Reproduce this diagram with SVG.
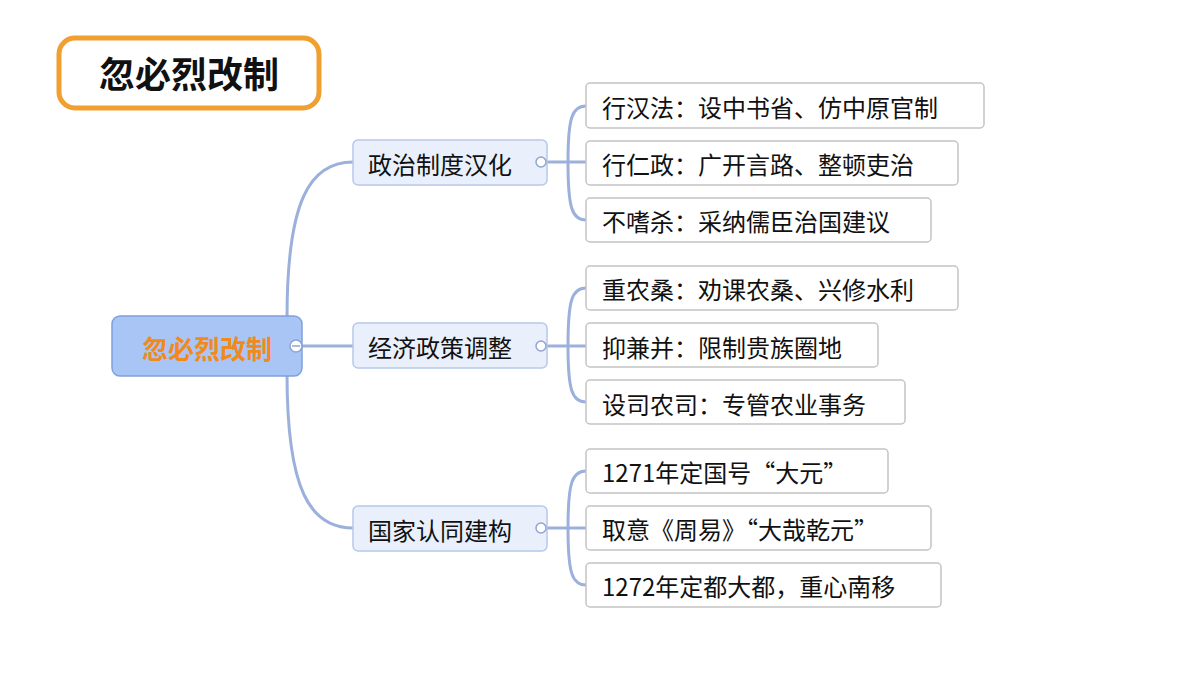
<svg xmlns="http://www.w3.org/2000/svg" width="1200" height="675" viewBox="0 0 1200 675">
<style>
text{font-family:"Noto Sans CJK SC","Noto Sans",sans-serif;dominant-baseline:central}
.br{fill:#e9f0fc;stroke:#b7c8ea;stroke-width:1.5}
.lf{fill:#fff;stroke:#c4c4c4;stroke-width:1.5}
.t{font-size:24px;fill:#111}
.c{fill:#fff;stroke:#8ea4d2;stroke-width:1.5}
.ln{fill:none;stroke:#9cb0dc;stroke-width:3}
</style>
<rect width="1200" height="675" fill="#fff"/>
<g id="title"><rect x="59" y="38" width="260" height="70" rx="16" fill="#fff" stroke="#f0a030" stroke-width="5"/><text x="189" y="72" text-anchor="middle" font-size="36" font-weight="bold" fill="#111">忽必烈改制</text></g>
<g id="connectors">
<path class="ln" d="M287,318 C287,200 310,162 353,162"/>
<path class="ln" d="M302,346 H353"/>
<path class="ln" d="M287,374 C287,490 310,528 353,528"/>
<path class="ln" d="M547,162 H586 M568,162 C568,118 572,106 586,106 M568,162 C568,208 572,220 586,220"/>
<path class="ln" d="M547,346 H586 M568,346 C568,300 572,288 586,288 M568,346 C568,390 572,402 586,402"/>
<path class="ln" d="M547,528 H586 M568,528 C568,483 572,471 586,471 M568,528 C568,573 572,585 586,585"/>
</g>
<g id="root"><rect x="112" y="316" width="190" height="60" rx="8" fill="#a8c5f6" stroke="#7fa0dc" stroke-width="1.5"/><text x="207" y="347" text-anchor="middle" font-size="26" font-weight="bold" fill="#f08a1c">忽必烈改制</text><circle class="c" cx="296" cy="346" r="6"/><path d="M292,346H300" stroke="#8ea4d2" stroke-width="1.5"/></g>
<g id="b1"><rect class="br" x="353" y="140" width="194" height="45" rx="5"/><text class="t" x="368" y="163">政治制度汉化</text><circle class="c" cx="541" cy="162" r="5"/></g>
<g id="b2"><rect class="br" x="353" y="323" width="194" height="45" rx="5"/><text class="t" x="368" y="346">经济政策调整</text><circle class="c" cx="541" cy="346" r="5"/></g>
<g id="b3"><rect class="br" x="353" y="506" width="194" height="45" rx="5"/><text class="t" x="368" y="529">国家认同建构</text><circle class="c" cx="541" cy="528" r="5"/></g>
<g id="l1"><rect class="lf" x="586" y="83" width="398" height="45" rx="4"/><text class="t" x="602" y="106">行汉法：设中书省、仿中原官制</text></g>
<g id="l2"><rect class="lf" x="586" y="141" width="372" height="44" rx="4"/><text class="t" x="602" y="163">行仁政：广开言路、整顿吏治</text></g>
<g id="l3"><rect class="lf" x="586" y="198" width="345" height="44" rx="4"/><text class="t" x="602" y="220">不嗜杀：采纳儒臣治国建议</text></g>
<g id="l4"><rect class="lf" x="586" y="266" width="372" height="44" rx="4"/><text class="t" x="602" y="288">重农桑：劝课农桑、兴修水利</text></g>
<g id="l5"><rect class="lf" x="586" y="323" width="292" height="44" rx="4"/><text class="t" x="602" y="346">抑兼并：限制贵族圈地</text></g>
<g id="l6"><rect class="lf" x="586" y="380" width="319" height="44" rx="4"/><text class="t" x="602" y="403">设司农司：专管农业事务</text></g>
<g id="l7"><rect class="lf" x="586" y="449" width="302" height="44" rx="4"/><text class="t" x="602" y="471">1271年定国号“大元”</text></g>
<g id="l8"><rect class="lf" x="586" y="506" width="345" height="44" rx="4"/><text class="t" x="602" y="528">取意《周易》“大哉乾元”</text></g>
<g id="l9"><rect class="lf" x="586" y="563" width="355" height="44" rx="4"/><text class="t" x="602" y="585">1272年定都大都，重心南移</text></g>
</svg>
